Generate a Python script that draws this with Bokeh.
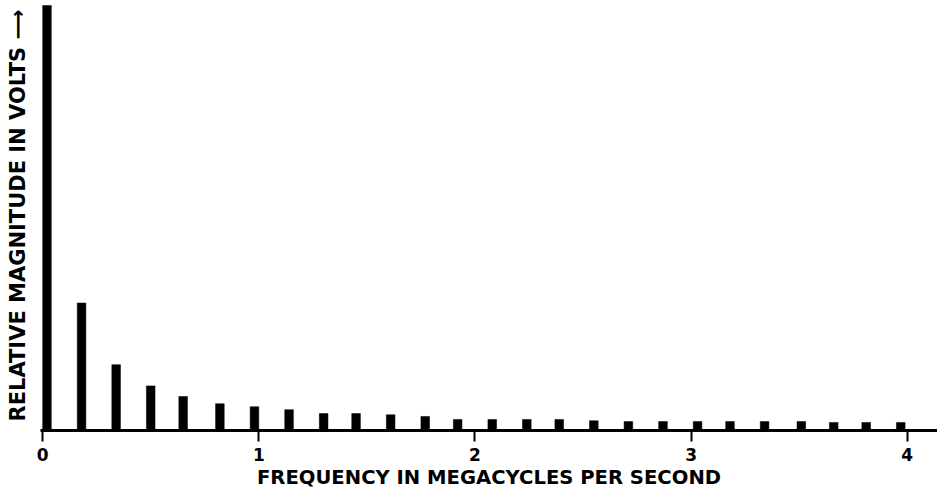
from bokeh.plotting import figure
from bokeh.models import FixedTicker, Range1d, ColumnDataSource
from bokeh.embed import file_html
from bokeh.resources import INLINE

# frequencies (MHz) of the spectral lines
freq = [0.02, 0.18, 0.34, 0.50, 0.65, 0.82, 0.98, 1.14, 1.30, 1.45, 1.61, 1.77, 1.92,
        2.08, 2.24, 2.39, 2.55, 2.71, 2.87, 3.03, 3.18, 3.34, 3.51, 3.66, 3.81, 3.97]
# relative magnitudes (DC line = 100)
magnitude = [100, 30.0, 15.5, 10.5, 8.0, 6.3, 5.6, 4.9, 4.0, 4.0, 3.7, 3.3, 2.6,
             2.6, 2.6, 2.6, 2.3, 2.1, 2.1, 2.1, 2.1, 2.1, 2.1, 1.9, 1.9, 1.9]
tick_values = [0, 1, 2, 3, 4]
x_title = "FREQUENCY IN MEGACYCLES PER SECOND"
y_title = "RELATIVE MAGNITUDE IN VOLTS \u27f6"

FONT = "DejaVu Sans"

src = ColumnDataSource(dict(x=freq, top=magnitude))

p = figure(width=937, height=492, output_backend="svg", toolbar_location=None,
           x_range=Range1d(-0.01, 4.14), y_range=Range1d(0, 101.2),
           min_border_left=40, min_border_right=0, min_border_top=0, min_border_bottom=62)

p.vbar(x="x", top="top", bottom=0, width=0.04, source=src,
       fill_color="black", line_color="black", line_width=0.5)

p.background_fill_color = "white"
p.border_fill_color = "white"
p.outline_line_color = None
p.grid.grid_line_color = None

xa = p.xaxis[0]
xa.ticker = FixedTicker(ticks=tick_values)
xa.axis_line_width = 3
xa.axis_line_color = "black"
xa.major_tick_line_width = 2
xa.major_tick_line_color = "black"
xa.major_tick_out = 11
xa.major_tick_in = 0
xa.minor_tick_line_color = None
xa.major_label_text_font = FONT
xa.major_label_text_font_style = "bold"
xa.major_label_text_font_size = "17px"
xa.major_label_text_color = "black"
xa.major_label_standoff = 6
xa.axis_label = x_title
xa.axis_label_text_font = FONT
xa.axis_label_text_font_style = "bold"
xa.axis_label_text_font_size = "19.6px"
xa.axis_label_text_color = "black"
xa.axis_label_standoff = 2

ya = p.yaxis[0]
ya.ticker = FixedTicker(ticks=[])
ya.axis_line_color = None
ya.major_tick_line_color = None
ya.minor_tick_line_color = None
ya.major_label_text_font_size = "0px"
ya.major_tick_out = 0
ya.major_label_standoff = 0
ya.axis_label = y_title
ya.axis_label_text_font = FONT
ya.axis_label_text_font_style = "bold"
ya.axis_label_text_font_size = "21px"
ya.axis_label_text_color = "black"
ya.axis_label_standoff = 11

open("out.html", "w").write(file_html(p, INLINE))
